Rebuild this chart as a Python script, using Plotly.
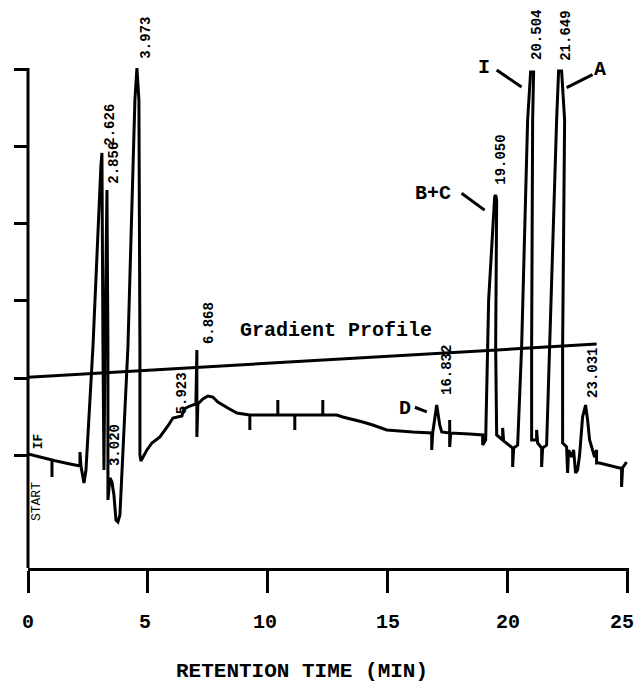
import plotly.graph_objects as go

# ---- chromatogram trace (time in min, detector response in arbitrary units) ----
time_min = [0.000, 1.000, 1.000, 1.000, 1.750, 2.167, 2.167, 2.208, 2.333, 2.417,
            2.708, 3.042, 3.083, 3.125, 3.167, 3.208, 3.292, 3.333, 3.333, 3.417,
            3.500, 3.583, 3.667, 3.750, 3.833, 4.167, 4.458, 4.542, 4.625, 4.667,
            4.667, 4.708, 4.958, 5.167, 5.500, 5.833, 6.042, 6.417, 6.500, 6.750,
            7.000, 7.042, 7.042, 7.083, 7.292, 7.500, 7.708, 7.917, 8.333, 8.708,
            9.250, 9.250, 9.250, 10.417, 10.417, 10.417, 11.125, 11.125, 11.125, 12.292,
            12.292, 12.292, 12.875, 13.125, 13.958, 14.375, 14.958, 16.042, 16.833, 16.833,
            16.875, 17.042, 17.167, 17.250, 17.583, 17.583, 17.583, 17.625, 18.417, 18.958,
            18.958, 19.083, 19.208, 19.458, 19.500, 19.542, 19.500, 19.542, 19.792, 19.792,
            19.833, 20.208, 20.208, 20.250, 20.417, 20.583, 20.833, 20.958, 21.083, 21.042,
            21.000, 21.000, 21.208, 21.208, 21.250, 21.417, 21.417, 21.458, 21.625, 21.750,
            22.042, 22.125, 22.250, 22.375, 22.292, 22.292, 22.458, 22.500, 22.542, 22.667,
            22.750, 22.833, 22.917, 23.000, 23.125, 23.250, 23.333, 23.417, 23.625, 23.708,
            23.708, 23.833, 24.667, 24.750, 24.750, 24.792, 24.958]
response = [1.013, 0.935, 0.714, 0.935, 0.883, 0.857, 1.039, 0.857, 0.636, 0.805,
            2.403, 4.766, 4.922, 2.403, 0.805, 2.364, 4.442, 2.403, 0.416, 0.701,
            0.649, 0.481, 0.156, 0.130, 0.221, 2.403, 5.610, 6.026, 5.610, 2.403,
            1.000, 0.922, 1.065, 1.156, 1.234, 1.377, 1.481, 1.506, 1.597, 1.636,
            1.662, 2.364, 1.234, 1.662, 1.727, 1.766, 1.753, 1.688, 1.610, 1.545,
            1.519, 1.325, 1.519, 1.519, 1.714, 1.519, 1.519, 1.325, 1.519, 1.519,
            1.714, 1.519, 1.519, 1.494, 1.429, 1.390, 1.325, 1.299, 1.286, 1.065,
            1.286, 1.649, 1.390, 1.299, 1.286, 1.455, 1.104, 1.286, 1.273, 1.260,
            1.130, 1.195, 3.013, 4.351, 4.377, 4.312, 2.403, 1.260, 1.195, 1.351,
            1.182, 1.091, 0.844, 1.091, 1.130, 2.403, 5.351, 5.974, 5.974, 5.351,
            2.403, 1.195, 1.195, 1.325, 1.156, 1.091, 0.844, 1.091, 1.130, 2.403,
            5.351, 5.987, 5.987, 5.351, 2.403, 1.156, 1.104, 0.766, 1.065, 0.974,
            1.065, 0.766, 0.805, 1.000, 1.494, 1.649, 1.455, 1.195, 0.974, 1.065,
            0.896, 0.896, 0.831, 0.831, 0.584, 0.831, 0.909]

# ---- gradient profile ----
grad_time = [0.0, 23.71]
grad_level = [2.01, 2.44]

# ---- retention-time labels printed by the integrator ----
rt_labels = ["2.626", "2.856", "3.020", "3.973", "5.923", "6.868",
             "16.832", "19.050", "20.504", "21.649", "23.031"]
rt_label_t = [3.42, 3.60, 3.63, 4.92, 6.42, 7.58, 17.50, 19.71, 21.25, 22.42, 23.58]
rt_label_y = [5.29, 4.80, 1.13, 6.42, 1.80, 2.71, 2.10, 4.83, 6.45, 6.44, 2.06]

# ---- peak identification labels with pointer lines ----
id_labels = ["I", "A", "B+C", "D"]
id_label_t = [19.00, 23.83, 16.88, 15.71]
id_label_y = [6.03, 6.00, 4.40, 1.61]
pointer_t0 = [19.54, 22.46, 18.08, 16.13]
pointer_y0 = [6.00, 5.77, 4.40, 1.62]
pointer_t1 = [20.58, 23.54, 19.04, 16.63]
pointer_y1 = [5.78, 5.94, 4.18, 1.56]

x_ticks = [0, 5, 10, 15, 20, 25]
y_ticks = [1, 2, 3, 4, 5, 6]

MONO = "Liberation Mono"

fig = go.Figure()
fig.add_trace(go.Scatter(x=grad_time, y=grad_level, mode="lines",
                         line=dict(color="black", width=3), hoverinfo="skip"))
fig.add_trace(go.Scatter(x=time_min, y=response, mode="lines",
                         line=dict(color="black", width=3, simplify=False),
                         hoverinfo="skip"))

annotations = []
for txt, t, y in zip(rt_labels, rt_label_t, rt_label_y):
    annotations.append(dict(x=t, y=y, xref="x", yref="y", text="<b>" + txt + "</b>",
                            textangle=-90, showarrow=False, xanchor="center",
                            yanchor="middle",
                            font=dict(family=MONO, size=14, color="black")))
for txt, t, y in zip(id_labels, id_label_t, id_label_y):
    annotations.append(dict(x=t, y=y, xref="x", yref="y", text="<b>" + txt + "</b>",
                            showarrow=False, xanchor="center", yanchor="middle",
                            font=dict(family=MONO, size=20, color="black")))
annotations.append(dict(x=12.83, y=2.62, xref="x", yref="y",
                        text="<b>Gradient Profile</b>", showarrow=False,
                        font=dict(family=MONO, size=20, color="black")))
annotations.append(dict(x=0.38, y=0.39, xref="x", yref="y", text="START",
                        textangle=-90, showarrow=False,
                        font=dict(family=MONO, size=13, color="black")))
annotations.append(dict(x=0.42, y=1.18, xref="x", yref="y", text="<b>IF</b>",
                        textangle=-90, showarrow=False,
                        font=dict(family=MONO, size=13, color="black")))
annotations.append(dict(x=11.42, y=(568 - 671) / 558, xref="x", yref="paper",
                        text="<b>RETENTION TIME (MIN)</b>", showarrow=False,
                        yanchor="middle",
                        font=dict(family=MONO, size=21, color="black")))
# x tick labels (the last one nudged left so it stays on the page)
for v in x_ticks:
    annotations.append(dict(x=v, y=(568 - 622) / 558, xref="x", yref="paper",
                            text="<b>%d</b>" % v, showarrow=False,
                            xanchor="center", yanchor="middle",
                            xshift=-6 if v == x_ticks[-1] else (-3 if v in (5, 10) else 0),
                            font=dict(family=MONO, size=20, color="black")))

shapes = []
for a, b, c, d in zip(pointer_t0, pointer_y0, pointer_t1, pointer_y1):
    shapes.append(dict(type="line", xref="x", yref="y", x0=a, y0=b, x1=c, y1=d,
                       line=dict(color="black", width=3)))
# vertical axis line (stops at the top tick)
shapes.append(dict(type="line", xref="paper", yref="paper", x0=0, x1=0,
                   y0=0, y1=(568 - 68) / 558, line=dict(color="black", width=3)))

fig.update_layout(
    width=635, height=686,
    margin=dict(l=28, r=6, t=10, b=118, autoexpand=False),
    paper_bgcolor="white", plot_bgcolor="white",
    showlegend=False,
    annotations=annotations,
    shapes=shapes,
    xaxis=dict(range=[0, 25.06], tickvals=x_ticks, showticklabels=False,
               ticks="outside", ticklen=22, tickwidth=3, tickcolor="black",
               showline=True, linewidth=3, linecolor="black",
               showgrid=False, zeroline=False, automargin=False),
    yaxis=dict(range=[-0.4675, 6.779], tickvals=y_ticks, showticklabels=False,
               ticks="outside", ticklen=13, tickwidth=3, tickcolor="black",
               showline=False, showgrid=False, zeroline=False, automargin=False),
)

fig.write_html("out.html")
